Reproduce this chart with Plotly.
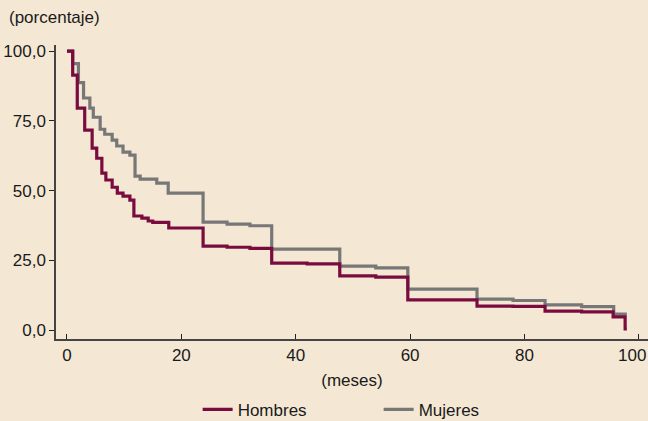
import plotly.graph_objects as go

# Hombres (Kaplan-Meier, months vs percentage)
hombres_t = [0, 1, 1.8, 3.1, 4.4, 5.2, 6.1, 6.8, 7.9, 8.8, 9.8, 11.0, 11.7, 13.1, 14.2, 15.0,
             17.8, 23.8, 28.0, 32.0, 35.8, 42.0, 47.7, 54.0, 59.6, 71.7, 78.0, 83.6, 90.0,
             95.5, 97.6, 97.9]
hombres_v = [100.0, 91.4, 79.6, 71.7, 65.2, 61.6, 56.3, 53.8, 51.2, 49.1, 48.0, 46.6, 40.9,
             40.1, 39.1, 38.6, 36.6, 30.1, 29.7, 29.3, 24.0, 23.7, 19.4, 19.0, 10.8, 8.6,
             8.5, 6.8, 6.5, 4.7, 0.4, 0.4]

# Mujeres
mujeres_t = [0, 1, 2.0, 2.9, 4.0, 4.6, 5.8, 6.6, 7.9, 8.7, 9.8, 11.0, 11.9, 12.8, 15.7, 17.7,
             23.8, 28.0, 32.0, 35.8, 47.7, 54.0, 59.6, 71.7, 78.0, 83.6, 90.0, 95.6, 97.9]
mujeres_v = [100.0, 95.5, 88.7, 83.2, 79.6, 76.3, 72.0, 70.2, 68.1, 66.0, 63.8, 62.7, 55.2,
             54.1, 52.7, 49.1, 38.7, 38.0, 37.4, 29.0, 22.9, 22.3, 14.7, 11.1, 10.6, 9.0,
             8.4, 5.7, 5.7]

y_ticks = [0, 25, 50, 75, 100]
x_ticks = [0, 20, 40, 60, 80, 100]
x_ticktext = ["0", "20", "40", "60", "80", ""]  # last label drawn flush to the edge below
x_last_label = "100"

BG = "#F4E8D4"
FONT = "Liberation Sans, Arial, sans-serif"
FS = 17

fig = go.Figure()
fig.add_trace(go.Scatter(x=mujeres_t, y=mujeres_v, mode="lines", name="Mujeres",
                         legendrank=2,
                         line=dict(color="#777777", width=3.2, shape="hv")))
fig.add_trace(go.Scatter(x=hombres_t, y=hombres_v, mode="lines", name="Hombres",
                         legendrank=1,
                         line=dict(color="#7A0B3F", width=3.2, shape="hv")))

fig.update_layout(
    width=648, height=421,
    paper_bgcolor=BG, plot_bgcolor=BG,
    margin=dict(l=56, r=0, t=45, b=82, autoexpand=False),
    font=dict(family=FONT, size=FS, color="#1a1a1a"),
    separators=",.",
    showlegend=True,
    legend=dict(orientation="h", x=0.545, xanchor="center", y=-0.241, yanchor="middle",
                bgcolor="rgba(0,0,0,0)", font=dict(size=FS), entrywidth=136,
                itemwidth=30, traceorder="normal"),
    xaxis=dict(range=[-1.92, 101.6], tickvals=x_ticks, ticktext=x_ticktext,
               ticks="inside", ticklen=5,
               tickcolor="#222", showline=True, linecolor="#444", linewidth=1.5,
               showgrid=False, zeroline=False, automargin=False,
               title=dict(text="(meses)", standoff=10, font=dict(size=FS)),
               tickfont=dict(size=FS)),
    yaxis=dict(range=[-3.2, 102.2], tickvals=y_ticks, tickformat=".1f", ticks="outside",
               ticklen=5, tickcolor="#222", showline=True, linecolor="#444", linewidth=1.5,
               showgrid=False, zeroline=False, automargin=False, tickfont=dict(size=FS)),
    annotations=[
        dict(text="(porcentaje)", xref="paper", yref="paper", x=-0.083, y=1.092,
             xanchor="left", yanchor="middle", showarrow=False, font=dict(size=FS)),
        dict(text=x_last_label, xref="paper", yref="paper", x=1.0, y=0.0,
             xanchor="right", yanchor="middle", yshift=-16, showarrow=False,
             font=dict(size=FS)),
    ],
)

fig.write_html("out.html", config={"displayModeBar": False},
               post_script="document.body.style.margin='0';")
